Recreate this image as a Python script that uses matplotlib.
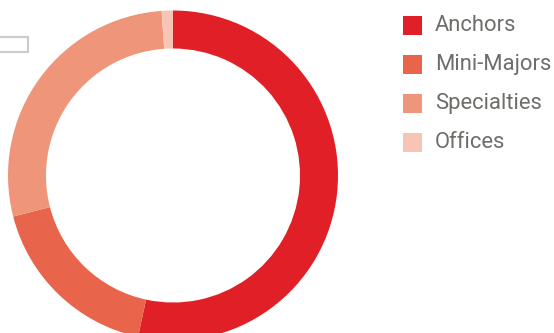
import matplotlib.pyplot as plt
from matplotlib.patches import Rectangle

# Tenant mix (% of leased area)
labels = ['Anchors', 'Mini-Majors', 'Specialties', 'Offices']
shares = [53.4, 17.6, 27.9, 1.1]
colors = ['#e11f27', '#e8644a', '#ef967a', '#f6c5b5']

W, H = 554, 333
fig = plt.figure(figsize=(W / 100, H / 100), dpi=100)

# donut, centre at (173, 157.5) px from bottom-left, outer radius 165 px
cx, cy, r = 173, 157.5, 165
ax = fig.add_axes([(cx - r) / W, (cy - r) / H, 2 * r / W, 2 * r / H])
ax.pie(shares, colors=colors, startangle=90, counterclock=False,
       radius=1, wedgeprops=dict(width=38 / 165, edgecolor='none'))
ax.set_xlim(-1, 1)
ax.set_ylim(-1, 1)
ax.set_aspect('equal')
ax.axis('off')

# small grey box at the left edge
fig.patches.append(Rectangle((-5 / W, (H - 52) / H), 33 / W, 15 / H,
                             transform=fig.transFigure, fill=False,
                             edgecolor='#cccccc', linewidth=1.6))

# legend
for i, (lab, col) in enumerate(zip(labels, colors)):
    top = 16 + 39 * i
    fig.patches.append(Rectangle((403 / W, (H - top - 19) / H), 19 / W, 19 / H,
                                 transform=fig.transFigure, color=col, lw=0))
    fig.text(435 / W, (H - top - 9.5) / H, lab, fontsize=15.8, color='#6d6d6a',
             family='Roboto', va='center', ha='left')

fig.savefig('out.png', dpi=100)
